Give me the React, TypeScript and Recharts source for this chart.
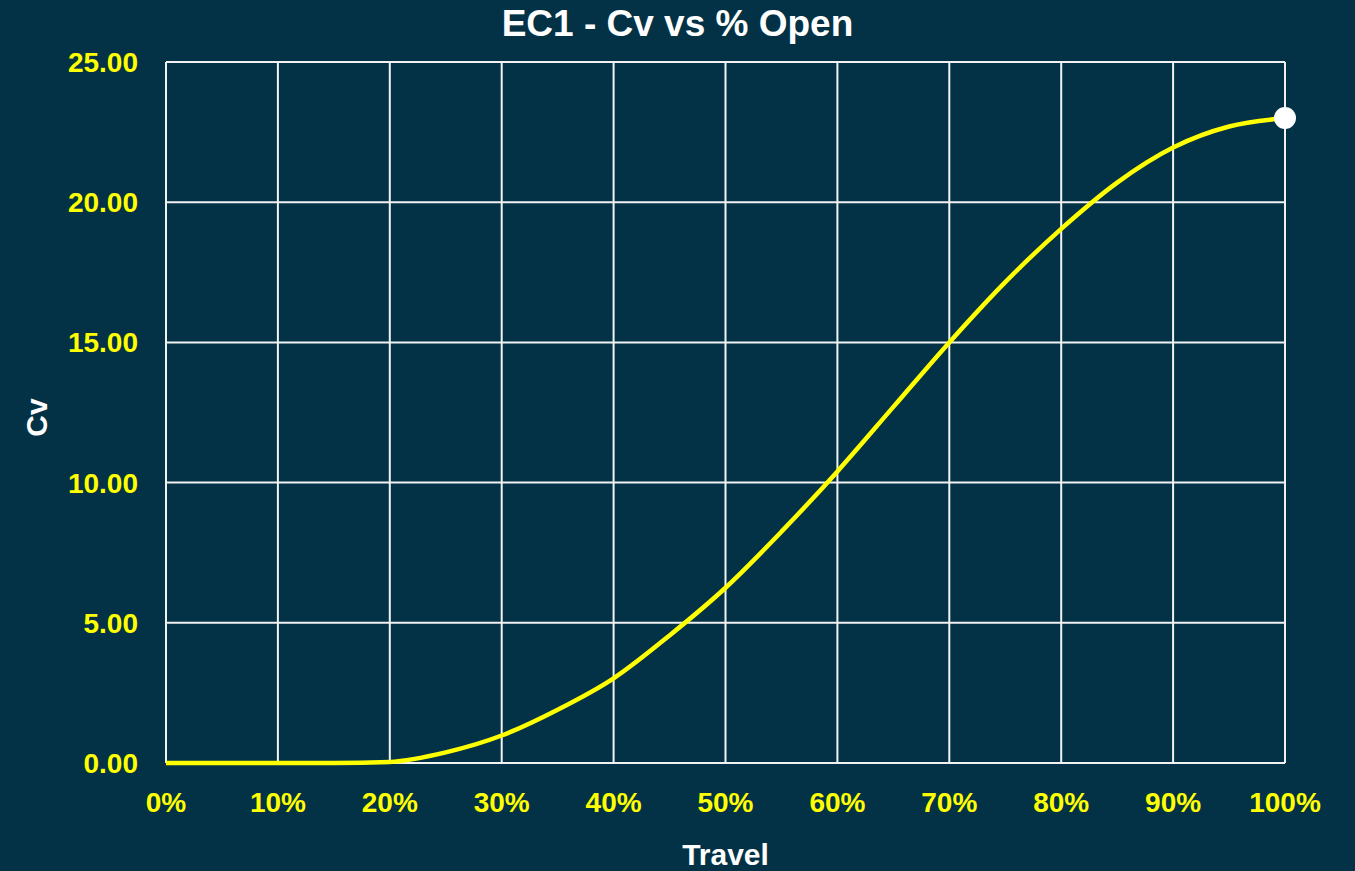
import { CartesianGrid, Line, LineChart, XAxis, YAxis } from "recharts";

const travel = [0, 5, 10, 15, 20, 25, 30, 35, 40, 45, 50, 55, 60, 65, 70, 75, 80, 85, 90, 95, 100];
const cv = [0, 0, 0, 0, 0.04, 0.38, 0.98, 1.9, 3.02, 4.55, 6.25, 8.25, 10.4, 12.7, 15.0, 17.15, 19.05, 20.7, 21.95, 22.7, 23.0];
const xTicks = [0, 10, 20, 30, 40, 50, 60, 70, 80, 90, 100];
const yTicks = [0, 5, 10, 15, 20, 25];

const data = travel.map((t, i) => ({ travel: t, cv: cv[i] }));

const BG = "#033246";
const FONT = "'Liberation Sans', Arial, sans-serif";
const tickStyle = { fill: "#FFFF00", fontSize: 28, fontWeight: 700, fontFamily: FONT };

// white marker on the last point only
function EndDot(props: any) {
  if (props.index !== data.length - 1) return <g key={`d${props.index}`} />;
  return <circle key="end" cx={props.cx} cy={props.cy} r={11} fill="#FFFFFF" stroke="none" />;
}

export default function App() {
  return (
    <div style={{ position: "absolute", left: 0, top: 0, width: 1355, height: 871, background: BG }}>
      <div
        style={{
          position: "absolute",
          top: 2,
          left: 0,
          width: 1355,
          textAlign: "center",
          color: "#FFFFFF",
          fontFamily: FONT,
          fontWeight: 700,
          fontSize: 37,
          lineHeight: "44px",
        }}
      >
        EC1 - Cv vs % Open
      </div>
      <LineChart width={1355} height={871} data={data} margin={{ top: 62, right: 70, bottom: 0, left: 0 }}>
        <CartesianGrid stroke="#F2F2F2" strokeWidth={2} horizontalValues={yTicks} verticalValues={xTicks} />
        <XAxis
          dataKey="travel"
          type="number"
          domain={[0, 100]}
          ticks={xTicks}
          tickFormatter={(v) => `${v}%`}
          tick={tickStyle}
          tickLine={false}
          tickSize={0}
          tickMargin={29}
          axisLine={false}
          height={108}
          interval={0}
          label={(p: any) => {
            const vb = p.viewBox;
            return (
              <text
                x={vb.x + vb.width / 2}
                y={vb.y + vb.height - 6}
                textAnchor="middle"
                fill="#FFFFFF"
                fontSize={30}
                fontWeight={700}
                fontFamily={FONT}
              >
                Travel
              </text>
            );
          }}
        />
        <YAxis
          type="number"
          domain={[0, 25]}
          ticks={yTicks}
          tickFormatter={(v) => v.toFixed(2)}
          tick={tickStyle}
          tickLine={false}
          tickSize={0}
          tickMargin={28}
          axisLine={false}
          width={166}
          interval={0}
          label={(p: any) => {
            const vb = p.viewBox;
            const cx = vb.x + 47;
            const cy = vb.y + vb.height / 2 + 5;
            return (
              <text
                x={cx}
                y={cy}
                transform={`rotate(-90, ${cx}, ${cy})`}
                textAnchor="middle"
                fill="#FFFFFF"
                fontSize={30}
                fontWeight={700}
                fontFamily={FONT}
              >
                Cv
              </text>
            );
          }}
        />
        <Line
          type="monotone"
          dataKey="cv"
          stroke="#FFFF00"
          strokeWidth={4.5}
          dot={EndDot}
          activeDot={false}
          isAnimationActive={false}
        />
      </LineChart>
    </div>
  );
}
